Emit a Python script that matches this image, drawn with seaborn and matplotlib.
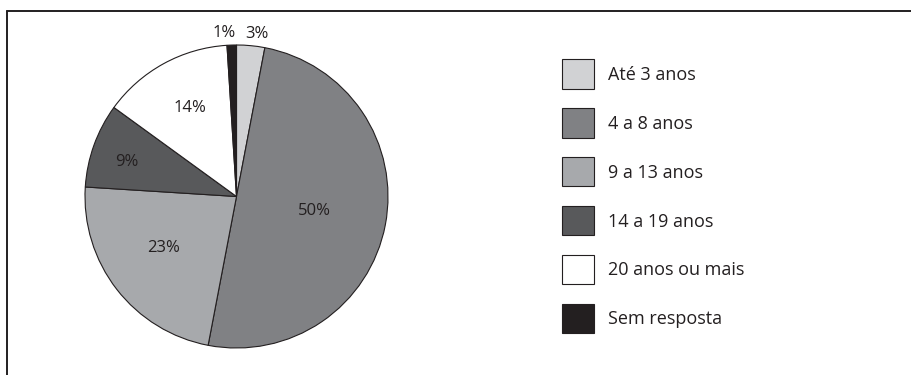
import numpy as np
import matplotlib
matplotlib.use("Agg")
import matplotlib.pyplot as plt
from matplotlib.lines import Line2D
from matplotlib.patches import Patch
import seaborn as sns

categories = ["Até 3 anos", "4 a 8 anos", "9 a 13 anos", "14 a 19 anos",
              "20 anos ou mais", "Sem resposta"]
values = [3, 50, 23, 9, 14, 1]
pct_labels = ["3%", "50%", "23%", "9%", "14%", "1%"]

colors = ["#d1d2d4", "#808184", "#a7a9ac", "#58595b", "#ffffff", "#231f20"]
label_dist = [1.08, 0.52, 0.59, 0.76, 0.66, 1.08]
label_dang = [0, 0.5, -2.9, 2.6, -1.2, 0]
label_ha = ["left", "center", "center", "center", "center", "right"]
label_dx = [-0.045, 0, 0, 0, 0, 0.03]

sns.set_theme(style="white")
plt.rcParams['font.family'] = ['Open Sans', 'DejaVu Sans']

W, H = 911, 375
fig = plt.figure(figsize=(W / 100, H / 100), dpi=100)

# frame lines (top and left)
fig.add_artist(Line2D([7 / W, 1.0], [1 - 11 / H, 1 - 11 / H], color="#231f20", lw=1.4))
fig.add_artist(Line2D([7 / W, 7 / W], [0, 1 - 11 / H], color="#231f20", lw=1.4))

ax = fig.add_axes([85 / W, 27 / H, 303 / W, 303 / H])
wedges, _ = ax.pie(values, colors=colors, startangle=90, counterclock=False,
                   radius=1.0,
                   wedgeprops=dict(edgecolor="#231f20", linewidth=0.8))
ax.set_xlim(-1, 1)
ax.set_ylim(-1, 1)
ax.set_aspect("equal")
ax.axis("off")

for w, lab, d, da, ha, dx in zip(wedges, pct_labels, label_dist, label_dang,
                                 label_ha, label_dx):
    ang = np.deg2rad((w.theta1 + w.theta2) / 2 + da)
    x, y = d * np.cos(ang) + dx, d * np.sin(ang)
    ax.text(x, y, lab, ha=ha, va="center", fontsize=12, color="#231f20",
            clip_on=False)

fs = 13
handles = [Patch(facecolor=c, edgecolor="#231f20", linewidth=0.8) for c in colors]
fig.legend(handles, categories, loc="upper left",
           bbox_to_anchor=(555 / W, 1 - 52 / H), frameon=False,
           fontsize=fs, handlelength=1.77, handleheight=2.12,
           labelspacing=1.09, handletextpad=0.78, borderaxespad=0,
           labelcolor="#231f20")

fig.savefig("out.png", dpi=100)
